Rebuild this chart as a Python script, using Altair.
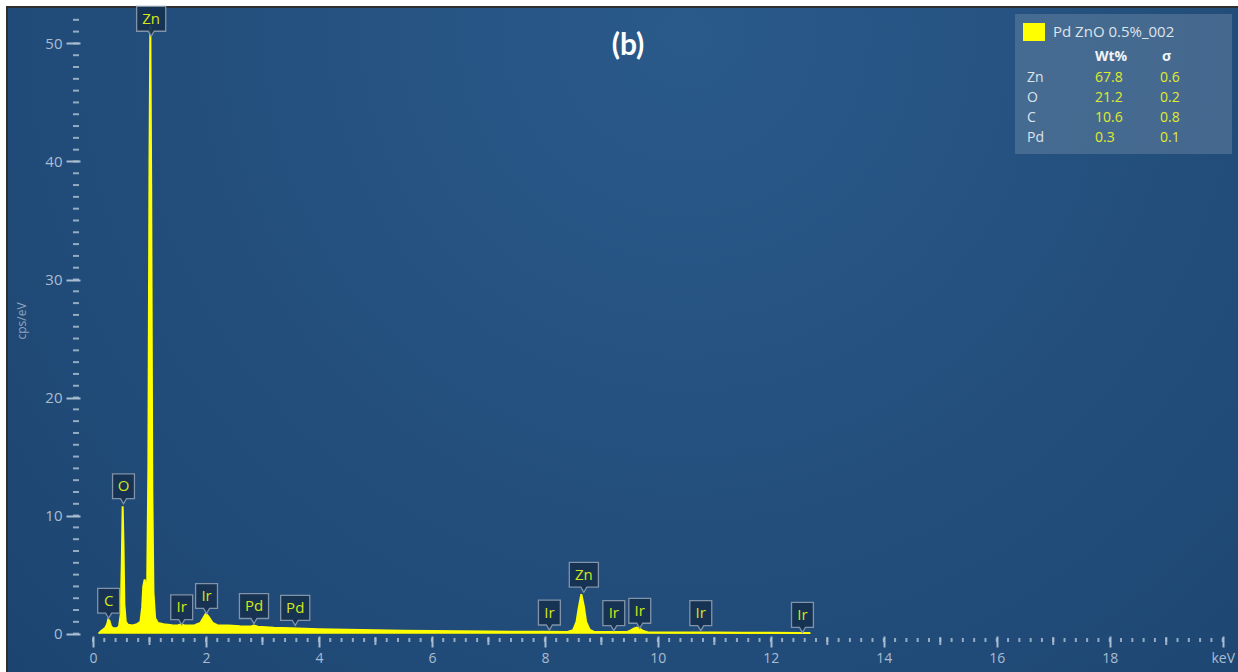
import altair as alt
import pandas as pd

# EDS spectrum of Pd/ZnO sample: energy (keV) vs counts (cps/eV)
energy_kev = [
    0.10, 0.14, 0.18, 0.22, 0.25, 0.27, 0.29, 0.32, 0.36, 0.42,
    0.46, 0.49, 0.51, 0.525, 0.54, 0.555, 0.58, 0.62, 0.70, 0.78,
    0.84, 0.87, 0.89, 0.915, 0.94, 0.96, 0.98, 1.00, 1.015, 1.03,
    1.05, 1.07, 1.10, 1.15, 1.25, 1.40, 1.50, 1.56, 1.62, 1.80,
    1.90, 1.95, 2.00, 2.05, 2.12, 2.20, 2.40, 2.60, 2.80, 2.85,
    2.92, 3.20, 3.50, 4.00, 4.50, 5.00, 5.50, 6.00, 6.50, 7.00,
    7.50, 8.00, 8.40, 8.50, 8.56, 8.60, 8.645, 8.69, 8.73, 8.79,
    8.87, 9.20, 9.45, 9.52, 9.58, 9.63, 9.68, 9.74, 9.82, 10.5,
    11.0, 11.5, 12.0, 12.5, 12.7,
]
cps = [
    0.0, 0.2, 0.35, 0.5, 0.8, 1.2, 1.1, 0.6, 0.45, 0.45,
    0.6, 1.6, 6.0, 10.8, 7.5, 2.5, 1.0, 0.75, 0.7, 0.8,
    1.0, 2.2, 4.0, 4.6, 3.7, 4.5, 14.0, 40.0, 51.5, 38.0,
    12.0, 3.5, 1.3, 0.9, 0.8, 0.72, 0.7, 0.8, 0.7, 0.72,
    0.9, 1.3, 1.7, 1.4, 0.9, 0.72, 0.68, 0.62, 0.6, 0.68,
    0.58, 0.5, 0.45, 0.38, 0.32, 0.28, 0.25, 0.22, 0.2, 0.18,
    0.16, 0.15, 0.14, 0.3, 1.0, 2.2, 3.35, 2.3, 1.0, 0.35,
    0.14, 0.13, 0.13, 0.27, 0.45, 0.52, 0.43, 0.22, 0.12, 0.1,
    0.09, 0.08, 0.07, 0.06, 0.05,
]

# Element markers: name, energy, height of the marker tip, box width class
peak_names = ["C", "O", "Zn", "Ir", "Ir", "Pd", "Pd", "Ir", "Zn", "Ir", "Ir", "Ir", "Ir"]
peak_kev = [0.277, 0.54, 1.03, 1.57, 2.01, 2.85, 3.58, 8.08, 8.69, 9.22, 9.68, 10.76, 12.56]
peak_tip = [1.3, 11.0, 50.6, 0.75, 1.7, 0.85, 0.7, 0.3, 3.5, 0.25, 0.45, 0.25, 0.1]
peak_box = ["n", "n", "w", "n", "n", "w", "w", "n", "w", "n", "n", "n", "n"]

# Quantification table
quant_elements = ["Zn", "O", "C", "Pd"]
quant_wt = ["67.8", "21.2", "10.6", "0.3"]
quant_sigma = ["0.6", "0.2", "0.8", "0.1"]
sample_name = "Pd ZnO 0.5%_002"

# Axis ticks
y_major = [0, 10, 20, 30, 40, 50]
y_minor = list(range(0, 53))
x_major = [0, 2, 4, 6, 8, 10, 12, 14, 16, 18, 20]
x_mid = [1, 3, 5, 7, 9, 11, 13, 15, 17, 19]
x_minor = [round(0.2 * i, 1) for i in range(101)]

W, H = 1141, 628
AXIS_COL = "#a9bdd1"
FONT = "Open Sans"

X_ENC = alt.X(
    "keV:Q",
    scale=alt.Scale(domain=[0, 20.2], nice=False, zero=False),
    axis=alt.Axis(
        values=x_major, labelExpr="datum.value == 20 ? 'keV' : datum.label",
        tickSize=11, tickWidth=2, tickColor=AXIS_COL, domain=False, grid=False,
        labelColor=AXIS_COL, labelFont=FONT, labelFontSize=14, labelPadding=4,
        labelFlush=False, title=None, zindex=2,
    ),
)
Y_ENC = alt.Y(
    "cps:Q",
    scale=alt.Scale(domain=[-0.2, 53], nice=False, zero=False),
    axis=alt.Axis(
        values=y_major, tickSize=14, tickWidth=2, tickColor=AXIS_COL, offset=13,
        domain=False, grid=False, labelColor=AXIS_COL, labelFont=FONT,
        labelFontSize=15, labelPadding=4, title=None, zindex=2,
    ),
)

one = pd.DataFrame({"k": [0]})
spec_df = pd.DataFrame({"keV": energy_kev, "cps": cps})
peak_df = pd.DataFrame({"keV": peak_kev, "cps": peak_tip, "name": peak_names, "box": peak_box})
ymin_df = pd.DataFrame({"cps": y_minor})
xmin_df = pd.DataFrame({"keV": x_minor})
xmid_df = pd.DataFrame({"keV": x_mid})
quant_df = pd.DataFrame({
    "row": list(range(len(quant_elements))),
    "el": quant_elements, "wt": quant_wt, "sg": quant_sigma,
})

# Panel background
panel = alt.Chart(one).mark_rect(
    fill=alt.RadialGradient(
        gradient="radial",
        stops=[alt.GradientStop(offset=0, color="#2a5a8a"),
               alt.GradientStop(offset=1, color="#1c436f")],
        x1=0.55, y1=0.25, r1=0, x2=0.55, y2=0.25, r2=0.8,
    ),
    stroke="#2e2e2e", strokeWidth=2, clip=False,
).encode(x=alt.value(-86), x2=alt.value(1148), y=alt.value(-1), y2=alt.value(666))

# Minor ticks
y_minor_ticks = alt.Chart(ymin_df).mark_rule(color=AXIS_COL, strokeWidth=2, opacity=0.85).encode(
    y=Y_ENC, x=alt.value(-20), x2=alt.value(-14))
x_minor_ticks = alt.Chart(xmin_df).mark_rule(color=AXIS_COL, strokeWidth=2, opacity=0.85).encode(
    x=X_ENC, y=alt.value(H + 2), y2=alt.value(H + 6))
x_mid_ticks = alt.Chart(xmid_df).mark_rule(color=AXIS_COL, strokeWidth=2, opacity=0.9).encode(
    x=X_ENC, y=alt.value(H + 1), y2=alt.value(H + 9))

# Spectrum
spectrum = alt.Chart(spec_df).mark_area(
    color="#ffff00", opacity=1, line={"color": "#ffff00", "strokeWidth": 2}, interpolate="linear"
).encode(x=X_ENC, y=Y_ENC)

# Element marker boxes (rectangle with a pointer at the bottom)
PATH_N = "M-0.73,-1L0.73,-1L0.73,0.66L0.2,0.66L0,1L-0.2,0.66L-0.73,0.66Z"
PATH_W = "M-0.97,-1L0.97,-1L0.97,0.66L0.2,0.66L0,1L-0.2,0.66L-0.97,0.66Z"
boxes = alt.Chart(peak_df).mark_point(
    filled=True, size=900, yOffset=-15, fill="#17314f", fillOpacity=0.92,
    stroke="#8093a8", strokeWidth=1.3, opacity=1,
).encode(
    x=X_ENC, y=Y_ENC,
    shape=alt.Shape("box:N", scale=alt.Scale(domain=["n", "w"], range=[PATH_N, PATH_W]), legend=None),
)
box_text = alt.Chart(peak_df).mark_text(
    yOffset=-17.5, color="#d2e81a", font=FONT, fontSize=15, align="center", baseline="middle"
).encode(x=X_ENC, y=Y_ENC, text="name:N")

# Panel title and axis title
title = alt.Chart(one).mark_text(
    text="(b)", font="Lato", fontWeight="bold", fontSize=30, color="white",
    align="center", baseline="middle",
).encode(x=alt.value(535), y=alt.value(38))
y_title = alt.Chart(one).mark_text(
    text="cps/eV", font=FONT, fontSize=12, color="#8ea4bb", angle=270,
    align="center", baseline="middle",
).encode(x=alt.value(-71), y=alt.value(313))

# Quantification box
q_bg = alt.Chart(one).mark_rect(fill="#6f8aa6", opacity=0.45).encode(
    x=alt.value(922), x2=alt.value(1139), y=alt.value(6), y2=alt.value(146))
q_swatch = alt.Chart(one).mark_rect(fill="#ffff00").encode(
    x=alt.value(930), x2=alt.value(952), y=alt.value(15), y2=alt.value(33))
q_name = alt.Chart(one).mark_text(
    text=sample_name, font=FONT, fontSize=15, color="#dde4ea", align="left", baseline="middle"
).encode(x=alt.value(960), y=alt.value(24))
q_head_wt = alt.Chart(one).mark_text(
    text="Wt%", font=FONT, fontSize=14, fontWeight="bold", color="#f2f4f6", align="left", baseline="middle"
).encode(x=alt.value(1002), y=alt.value(49))
q_head_sg = alt.Chart(one).mark_text(
    text="σ", font=FONT, fontSize=14, fontWeight="bold", color="#f2f4f6", align="left", baseline="middle"
).encode(x=alt.value(1069), y=alt.value(49))

q_base = alt.Chart(quant_df).transform_calculate(ypix="70 + 20 * datum.row")
q_el = q_base.mark_text(font=FONT, fontSize=14, color="#dde4ea", align="left", baseline="middle").encode(
    x=alt.value(934), y=alt.Y("ypix:Q", scale=None), text="el:N")
q_wt = q_base.mark_text(font=FONT, fontSize=14, color="#e2ea2c", align="left", baseline="middle").encode(
    x=alt.value(1002), y=alt.Y("ypix:Q", scale=None), text="wt:N")
q_sg = q_base.mark_text(font=FONT, fontSize=14, color="#e2ea2c", align="left", baseline="middle").encode(
    x=alt.value(1067), y=alt.Y("ypix:Q", scale=None), text="sg:N")

chart = alt.layer(
    panel, y_minor_ticks, x_minor_ticks, x_mid_ticks, spectrum, boxes, box_text,
    title, y_title, q_bg, q_swatch, q_name, q_head_wt, q_head_sg, q_el, q_wt, q_sg,
).resolve_scale(y="shared").properties(
    width=W, height=H,
    padding={"left": 93, "top": 8, "right": 4, "bottom": 36},
    autosize=alt.AutoSizeParams(type="none"),
    background="white",
).configure_view(stroke=None)

chart.save("out.html", embed_options={"renderer": "svg", "actions": False})
